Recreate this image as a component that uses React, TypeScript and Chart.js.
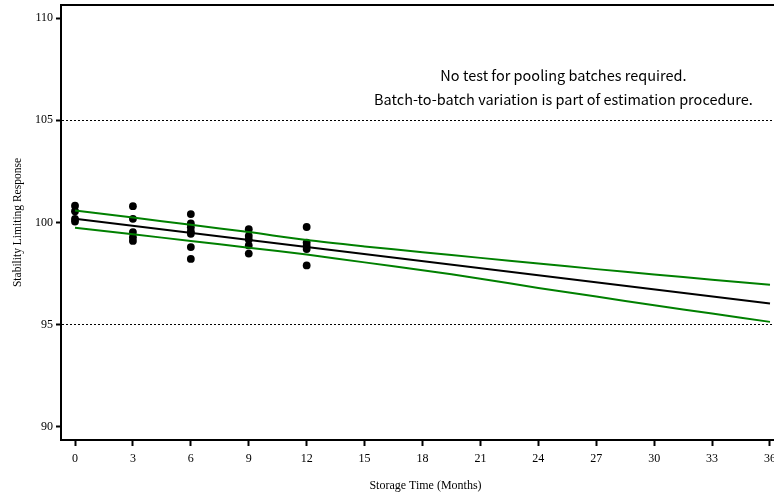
import React, { useEffect, useRef } from "react";
import { Chart, registerables } from "chart.js";

Chart.register(...registerables);

// Observed stability results (month, response)
const obsMonths = [
  0, 0, 0, 0,
  3, 3, 3, 3, 3,
  6, 6, 6, 6, 6, 6, 6,
  9, 9, 9, 9, 9,
  12, 12, 12, 12, 12,
];
const obsValues = [
  100.82, 100.55, 100.18, 100.05,
  100.8, 100.18, 99.53, 99.28, 99.1,
  100.41, 99.95, 99.77, 99.57, 99.45, 98.8, 98.22,
  99.67, 99.35, 99.17, 98.88, 98.48,
  99.78, 99.02, 98.85, 98.7, 97.9,
];

// Regression line
const fitMonths = [0, 36];
const fitValues = [100.18, 96.04];

// Confidence band
const bandMonths = [0, 3, 6, 9, 12, 15, 18, 21, 24, 27, 30, 33, 36];
const upperValues = [100.59, 100.24, 99.89, 99.53, 99.14, 98.83, 98.55, 98.27, 98.0, 97.72, 97.46, 97.2, 96.95];
const lowerValues = [99.74, 99.42, 99.1, 98.77, 98.43, 98.05, 97.67, 97.25, 96.8, 96.38, 95.95, 95.55, 95.14];

const xTicks = [0, 3, 6, 9, 12, 15, 18, 21, 24, 27, 30, 33, 36];
const yTicks = [90, 95, 100, 105, 110];
const refLines = [95, 105];

const annotationLines = [
  "No test for pooling batches required.",
  "Batch-to-batch variation is part of estimation procedure.",
];

const serif = "'Liberation Serif', 'Times New Roman', serif";

export default function App() {
  const ref = useRef<HTMLCanvasElement | null>(null);

  useEffect(() => {
    document.body.style.margin = "0";
    document.body.style.overflow = "hidden";
    const canvas = ref.current;
    if (!canvas) return;

    const boxPlugin = {
      id: "boxAndText",
      afterDraw(chart: any) {
        const { ctx, chartArea } = chart;
        ctx.save();
        ctx.strokeStyle = "#000";
        ctx.lineWidth = 2;
        ctx.beginPath();
        ctx.moveTo(chartArea.left, chartArea.top);
        ctx.lineTo(chartArea.right, chartArea.top);
        ctx.lineTo(chartArea.right, chartArea.bottom);
        ctx.stroke();
        ctx.fillStyle = "#000";
        ctx.font = "14.5px 'Noto Sans CJK JP', sans-serif";
        ctx.textAlign = "center";
        ctx.textBaseline = "middle";
        const xs = chart.scales.x;
        const ys = chart.scales.y;
        const cx = xs.getPixelForValue(25.3);
        ctx.fillText(annotationLines[0], cx, ys.getPixelForValue(107.21));
        ctx.fillText(annotationLines[1], cx, ys.getPixelForValue(106.03));
        ctx.restore();
      },
    };

    const chart = new Chart(canvas, {
      type: "scatter",
      data: {
        datasets: [
          {
            label: "Upper",
            type: "line",
            data: bandMonths.map((m, i) => ({ x: m, y: upperValues[i] })),
            borderColor: "#008000",
            borderWidth: 2,
            pointRadius: 0,
            fill: false,
            tension: 0.3,
          },
          {
            label: "Lower",
            type: "line",
            data: bandMonths.map((m, i) => ({ x: m, y: lowerValues[i] })),
            borderColor: "#008000",
            borderWidth: 2,
            pointRadius: 0,
            fill: false,
            tension: 0.3,
          },
          {
            label: "Fit",
            type: "line",
            data: fitMonths.map((m, i) => ({ x: m, y: fitValues[i] })),
            borderColor: "#000",
            borderWidth: 2,
            pointRadius: 0,
            fill: false,
          },
          {
            label: "Observed",
            data: obsMonths.map((m, i) => ({ x: m, y: obsValues[i] })),
            backgroundColor: "#000",
            borderColor: "#000",
            pointRadius: 3.9,
            borderWidth: 0,
          },
        ],
      },
      options: {
        animation: false,
        responsive: false,
        maintainAspectRatio: false,
        layout: { padding: { top: 5, right: 10, left: 0, bottom: 0 } },
        plugins: {
          legend: { display: false },
          tooltip: { enabled: false },
        },
        scales: {
          x: {
            type: "linear",
            min: -0.7254,
            max: 37.036,
            afterBuildTicks: (s: any) => {
              s.ticks = xTicks.map((v) => ({ value: v }));
            },
            afterFit: (s: any) => {
              s.height = 53;
              s.paddingLeft = 0;
              s.paddingRight = 0;
            },
            border: { display: true, color: "#000", width: 2 },
            grid: {
              drawOnChartArea: false,
              drawTicks: true,
              tickLength: 6,
              tickWidth: 2,
              tickColor: "#000",
            },
            ticks: {
              color: "#000",
              font: { family: serif, size: 12 },
              padding: 6,
              maxRotation: 0,
              autoSkip: false,
            },
            title: {
              display: true,
              text: "Storage Time (Months)",
              color: "#000",
              font: { family: serif, size: 12 },
              padding: { top: 0, bottom: 0 },
            },
          },
          y: {
            type: "linear",
            min: 89.364,
            max: 110.636,
            afterBuildTicks: (s: any) => {
              s.ticks = yTicks.map((v) => ({ value: v }));
            },
            afterFit: (s: any) => {
              s.width = 61;
              s.paddingTop = 0;
              s.paddingBottom = 0;
            },
            border: { display: true, color: "#000", width: 2, dash: [2, 2] },
            grid: {
              drawOnChartArea: true,
              drawTicks: true,
              tickLength: 5,
              tickWidth: 2,
              tickColor: "#000",
              lineWidth: 1,
              color: (c: any) =>
                c.tick && refLines.includes(c.tick.value) ? "#000" : "rgba(0,0,0,0)",
            },
            ticks: {
              color: "#000",
              font: { family: serif, size: 12 },
              padding: 3,
            },
            title: {
              display: true,
              text: "Stability Limiting Response",
              color: "#000",
              font: { family: serif, size: 11.5 },
              padding: { top: 11, bottom: 0 },
            },
          },
        },
      },
      plugins: [boxPlugin],
    } as any);

    return () => chart.destroy();
  }, []);

  return (
    <div style={{ width: 774, height: 493, overflow: "hidden", position: "relative", background: "#fff" }}>
      <canvas ref={ref} width={800} height={493} style={{ display: "block", width: 800, height: 493 }} />
    </div>
  );
}
